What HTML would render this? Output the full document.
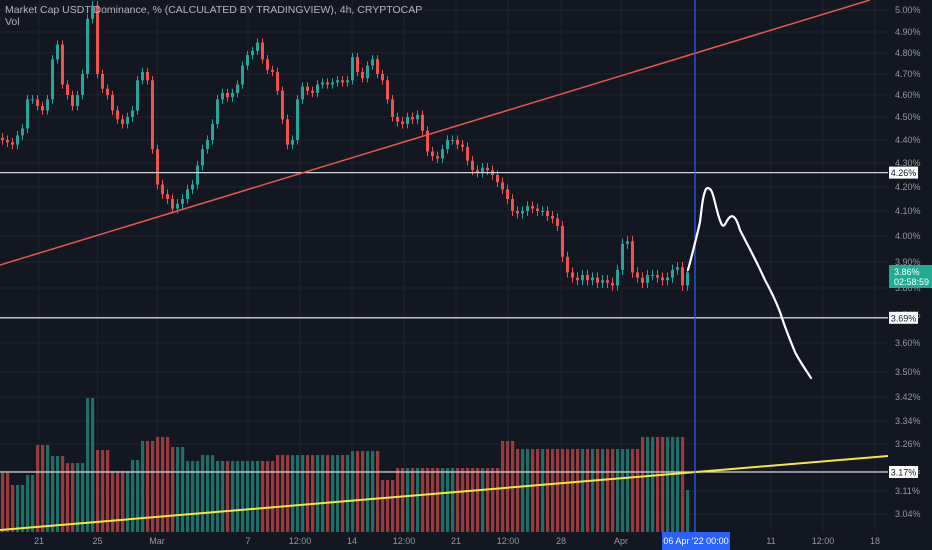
<!DOCTYPE html>
<html><head><meta charset="utf-8"><style>
html,body{margin:0;padding:0;background:#131722;}
svg{display:block;font-family:"Liberation Sans",sans-serif;}
</style></head><body>
<svg id="chart" width="932" height="550">
<rect width="932" height="550" fill="#131722"/>
<g id="grid"></g>
<g id="vol"></g>
<g id="candles"></g>
<g id="axes"></g>
<g id="overlay"></g>
<text x="5" y="13" fill="#b2b5be" font-size="10.5">Market Cap USDT Dominance, % (CALCULATED BY TRADINGVIEW), 4h, CRYPTOCAP</text>
<text x="5" y="25" fill="#b2b5be" font-size="10.5">Vol</text>
</svg>
<script>
const tickPrices=[5.00,4.90,4.80,4.70,4.60,4.50,4.40,4.30,4.20,4.10,4.00,3.90,3.80,3.70,3.60,3.50,3.42,3.34,3.26,3.17,3.11,3.04];
const tickLabels=["5.00%","4.90%","4.80%","4.70%","4.60%","4.50%","4.40%","4.30%","4.20%","4.10%","4.00%","3.90%","3.80%","3.70%","3.60%","3.50%","3.42%","3.34%","3.26%","3.17%","3.11%","3.04%"];
const closes=[4.40,4.39,4.38,4.42,4.45,4.58,4.58,4.55,4.53,4.58,4.77,4.84,4.65,4.60,4.55,4.60,4.70,4.96,5.02,4.70,4.63,4.60,4.53,4.49,4.47,4.50,4.53,4.67,4.71,4.67,4.36,4.21,4.17,4.15,4.11,4.13,4.15,4.19,4.21,4.29,4.36,4.40,4.47,4.58,4.61,4.59,4.61,4.65,4.74,4.79,4.81,4.85,4.77,4.72,4.71,4.62,4.49,4.38,4.40,4.58,4.64,4.62,4.61,4.65,4.66,4.65,4.66,4.67,4.66,4.67,4.78,4.71,4.68,4.74,4.77,4.70,4.67,4.58,4.50,4.48,4.47,4.50,4.49,4.51,4.44,4.35,4.33,4.32,4.36,4.40,4.40,4.38,4.37,4.31,4.27,4.26,4.28,4.27,4.25,4.22,4.19,4.15,4.10,4.09,4.10,4.12,4.11,4.10,4.10,4.08,4.07,4.04,3.92,3.86,3.84,3.83,3.85,3.83,3.84,3.82,3.83,3.82,3.81,3.87,3.97,3.98,3.86,3.84,3.82,3.85,3.85,3.84,3.83,3.84,3.87,3.88,3.81,3.86];
const volumes=[59,59,47,47,47,57,57,87,87,87,76,76,76,69,69,69,69,134,134,82,82,82,61,61,61,61,72,72,91,91,91,95,95,95,85,85,85,71,71,71,77,77,77,71,71,71,71,71,71,71,71,71,71,71,71,77,77,77,77,77,77,77,77,77,77,77,77,77,77,77,81,81,81,81,81,81,52,52,52,64,64,64,64,64,64,64,64,64,64,64,64,64,64,64,64,64,64,64,64,64,91,91,91,83,83,83,83,83,83,83,83,83,83,83,83,83,83,83,83,83,83,83,83,83,83,83,83,83,95,95,95,95,95,95,95,95,95,42];
const timeLabels=["21","25","Mar","7","12:00","14","12:00","21","12:00","28","Apr","11","12:00","18"];
const timeIdx=[7.3,19,30.9,49.1,59.5,69.9,80.3,90.7,101.1,111.7,123.7,153.7,164.1,174.5];
const levelPrices=[4.26,3.69];
const levelLabels=["4.26%","3.69%"];
const tickY=[10,32,53,74,95,117,140,163,187,211,236,262,288,315,343,372,397,421,444,471,491,514];
const NS="http://www.w3.org/2000/svg";
function el(t,a,p){const e=document.createElementNS(NS,t);for(const k in a)e.setAttribute(k,a[k]);p.appendChild(e);return e;}
function y(p){
  for(let i=0;i<tickPrices.length-1;i++){
    const a=tickPrices[i],b=tickPrices[i+1];
    if(p<=a&&p>=b)return tickY[i]+(a-p)/(a-b)*(tickY[i+1]-tickY[i]);
  }
  if(p>tickPrices[0])return tickY[0]-(p-tickPrices[0])/0.1*22;
  return tickY[tickY.length-1]+(tickPrices[tickPrices.length-1]-p)*300;
}
function x(i){return i*5+2.5;}
const volBase=532;
function vy(v){return volBase-v;}
const grid=document.getElementById('grid'),vol=document.getElementById('vol'),cg=document.getElementById('candles'),ov=document.getElementById('overlay'),ax=document.getElementById('axes');
tickPrices.forEach((p,i)=>{
  const l=el('line',{x1:0,x2:888,y1:y(p),y2:y(p),stroke:'#1f2330','stroke-width':1},grid);
  
  
  const t=el('text',{x:895,y:y(p)+3,fill:'#9598a1','font-size':9},ax);
  t.textContent=tickLabels[i];
  
  
});
timeIdx.forEach((ti,i)=>{
  const l=el('line',{x1:x(ti),x2:x(ti),y1:0,y2:532,stroke:'#1f2330','stroke-width':1},grid);
  
  
  const t=el('text',{x:x(ti),y:544,fill:'#9598a1','font-size':9,'text-anchor':'middle'},ax);
  t.textContent=timeLabels[i];
  
  
});
closes.forEach((c,i)=>{
  const o=i>0?closes[i-1]:c+0.01;
  const up=c>=o;
  const col=up?'#26a69a':'#ef5350';
  const v=el('rect',{x:x(i)-1.5,y:vy(volumes[i]),width:3.2,height:volumes[i],fill:up?'#1e6f66':'#9a3a3c'},vol);
  
  
  const hi=Math.max(o,c)+0.02,lo=Math.min(o,c)-0.02;
  const w=el('line',{x1:x(i),x2:x(i),y1:y(hi),y2:y(lo),stroke:col,'stroke-width':1},cg);
  
  
  const top=y(Math.max(o,c)),bot=y(Math.min(o,c));
  const b=el('rect',{x:x(i)-1.5,y:top,width:3,height:Math.max(1,bot-top),fill:col},cg);
  
  
});
levelPrices.forEach((p,i)=>{
  const l=el('line',{x1:0,x2:888,y1:y(p),y2:y(p),stroke:'#d1d4dc','stroke-width':1.3},ov);
  
  
  const r=el('rect',{x:889,y:y(p)-6,width:29,height:12,fill:'#ffffff'},ov);
  
  
  const t=el('text',{x:903.5,y:y(p)+3.5,fill:'#131722','font-size':9,'text-anchor':'middle'},ov);
  t.textContent=levelLabels[i];
  
  
});
</script>
<svg x="0" y="0" width="932" height="550" style="position:absolute;left:0;top:0">
<line x1="0" y1="472" x2="888" y2="472" stroke="#d1d4dc" stroke-width="1.3"/>
<rect x="889" y="466" width="29" height="12" fill="#fff"/>
<text x="903.5" y="475.5" fill="#131722" font-size="9" text-anchor="middle" font-family="Liberation Sans,sans-serif">3.17%</text>
<line x1="0" y1="265" x2="870" y2="0" stroke="#ef5350" stroke-width="1.5"/>
<line x1="0" y1="530" x2="888" y2="456" stroke="#f5e93a" stroke-width="2"/>
<line x1="695" y1="0" x2="695" y2="532" stroke="#2962ff" stroke-width="1.2"/>
<path d="M688,270 C692,255 696,240 700,222 C702,205 703,195 706,189 C708,187 711,188 713,195 C716,205 718,218 722,225 C725,228 726,220 730,217 C734,214 737,220 740,230 C745,240 755,258 765,280 C772,293 778,305 782,318 C786,330 790,340 795,352 C800,362 806,370 811,378" fill="none" stroke="#ffffff" stroke-width="2.2" stroke-linecap="round"/>
<rect x="889" y="265" width="43" height="23" fill="#22ab94"/>
<text x="894" y="275" fill="#fff" font-size="9" font-family="Liberation Sans,sans-serif">3.86%</text>
<text x="894" y="285" fill="#fff" font-size="9" font-family="Liberation Sans,sans-serif">02:58:59</text>
<rect x="662" y="532" width="68" height="18" fill="#2962ff"/>
<text x="696" y="544" fill="#fff" font-size="9" text-anchor="middle" font-family="Liberation Sans,sans-serif">06 Apr '22   00:00</text>
</svg>
</body></html>
